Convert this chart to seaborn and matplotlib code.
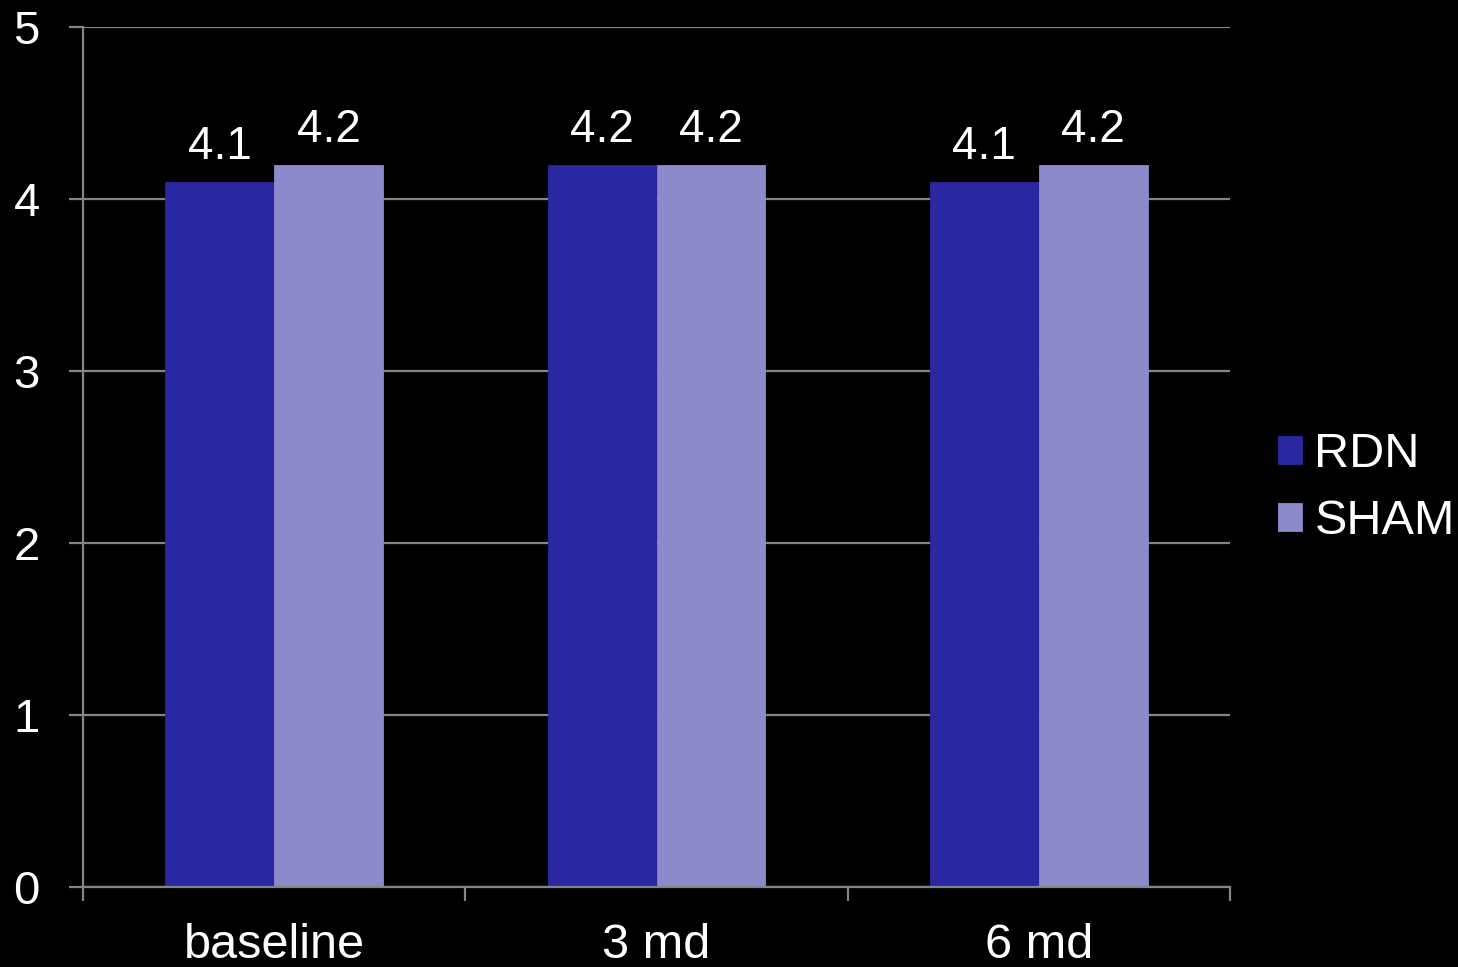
import matplotlib
matplotlib.use("Agg")
import matplotlib.pyplot as plt
import seaborn as sns
import pandas as pd
from matplotlib.ticker import FixedLocator

# Data
time_points = ["baseline", "3 md", "6 md"]
rdn_values = [4.1, 4.2, 4.1]
sham_values = [4.2, 4.2, 4.2]
groups = ["RDN", "SHAM"]
y_ticks = [0, 1, 2, 3, 4, 5]

df = pd.DataFrame({
    "time": time_points * 2,
    "group": [groups[0]] * 3 + [groups[1]] * 3,
    "value": rdn_values + sham_values,
})

sns.set_style("dark")
plt.rcParams["font.family"] = ["Liberation Sans", "DejaVu Sans"]

GRID = "#858585"
LW = 1.6
palette = {"RDN": "#2A28A1", "SHAM": "#8B8ACB"}

fig = plt.figure(figsize=(14.58, 9.67), dpi=100, facecolor="black")
ax = fig.add_axes([83 / 1458, 1 - 887 / 967, (1230 - 83) / 1458, (887 - 27) / 967])
ax.set_facecolor("black")

sns.barplot(data=df, x="time", y="value", hue="group", order=time_points,
            hue_order=groups, palette=palette, width=0.57, gap=0,
            saturation=1, linewidth=0, ax=ax, legend=True)

# Close the hairline seam between adjacent bars
for patch in ax.patches:
    patch.set_edgecolor(patch.get_facecolor())
    patch.set_linewidth(0.6)

ax.set_ylim(0, 5)
ax.set_xlim(-0.5, len(time_points) - 0.5)
ax.set_yticks(y_ticks)
ax.set_axisbelow(True)
ax.yaxis.grid(True, color=GRID, linewidth=LW)
ax.xaxis.grid(False)

for side in ["top", "right"]:
    ax.spines[side].set_visible(False)
for side in ["left", "bottom"]:
    ax.spines[side].set_visible(True)
    ax.spines[side].set_color(GRID)
    ax.spines[side].set_linewidth(LW)

ax.set_xlabel("")
ax.set_ylabel("")

# Category labels at centers, tick marks at category boundaries
ax.tick_params(axis="x", which="major", bottom=True, length=0, pad=26,
               labelsize=35, labelcolor="white")
ax.xaxis.set_minor_locator(FixedLocator([i - 0.5 for i in range(len(time_points) + 1)]))
ax.tick_params(axis="x", which="minor", bottom=True, length=10, width=LW,
               color=GRID, direction="out")
ax.tick_params(axis="y", left=True, length=10, width=LW, color=GRID, direction="out",
               pad=21, labelsize=34, labelcolor="white")

for container in ax.containers:
    ax.bar_label(container, fmt="%.1f", padding=9, fontsize=33, color="white")

handles, labels = ax.get_legend_handles_labels()
ax.legend(handles, labels, loc="center left", bbox_to_anchor=(1278 / 1458, 1 - 488 / 967),
          bbox_transform=fig.transFigure, frameon=False, fontsize=35,
          labelcolor="white", handlelength=0.5, handleheight=0.5,
          handletextpad=0.25, labelspacing=0.45, borderpad=0, borderaxespad=0)

fig.savefig("out.png", dpi=100, facecolor="black")
